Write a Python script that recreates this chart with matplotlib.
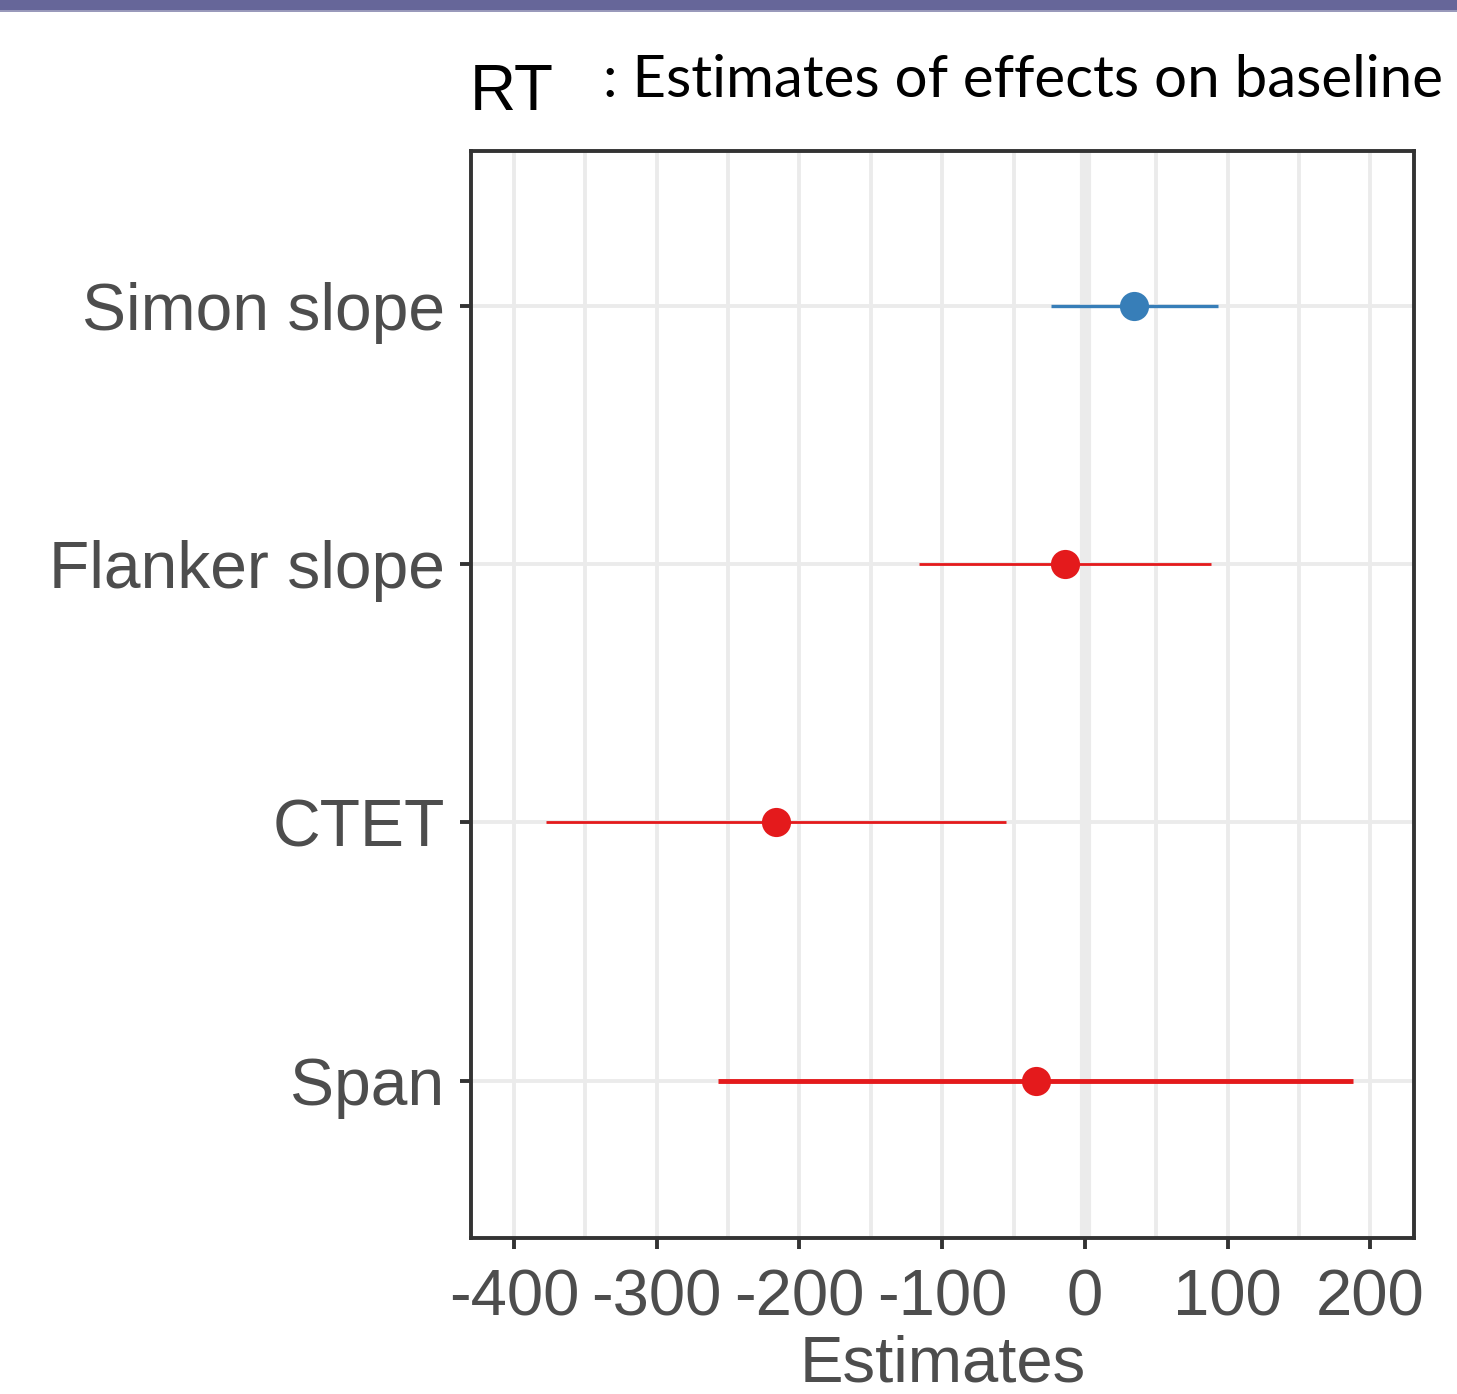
import matplotlib
matplotlib.use("Agg")
import matplotlib.pyplot as plt
from matplotlib.patches import Rectangle

# data
terms = ["Span", "CTET", "Flanker slope", "Simon slope"]
estimates = [-34.3, -216.5, -14.0, 34.3]
ci_low = [-257.0, -377.6, -116.3, -23.8]
ci_high = [187.7, -55.3, 88.3, 93.2]
x_ticks = [-400, -300, -200, -100, 0, 100, 200]

# styles
point_colors = ["#E41A1C", "#E41A1C", "#E41A1C", "#377EB8"]
line_widths = [3.5, 2.0, 2.0, 2.4]
text_grey = "#4D4D4D"
frame_grey = "#333333"
grid_grey = "#EBEBEB"

plt.rcParams["font.family"] = ["Liberation Sans", "DejaVu Sans"]
plt.rcParams["axes.unicode_minus"] = False

W, H = 1457, 1394
fig = plt.figure(figsize=(W / 100, H / 100), dpi=100)

# purple band on top of the slide
fig.patches.append(Rectangle((0, 1 - 11 / H), 1, 11 / H, transform=fig.transFigure,
                             facecolor="#666699", edgecolor="none"))
fig.patches.append(Rectangle((0, 1 - 12 / H), 1, 1.5 / H, transform=fig.transFigure,
                             facecolor="#9999BB", edgecolor="none"))

ax = fig.add_axes([471 / W, 1 - 1238 / H, (1414 - 471) / W, (1238 - 151) / H])

ypos = list(range(1, len(terms) + 1))

# grid lines every 50
for gx in range(-400, 201, 50):
    ax.axvline(gx, color=grid_grey, lw=2.8, zorder=0)
for gy in ypos:
    ax.axhline(gy, color=grid_grey, lw=2.8, zorder=0)
ax.axvline(0, color=grid_grey, lw=8, zorder=0.5)

for y, est, lo, hi, c, lw in zip(ypos, estimates, ci_low, ci_high, point_colors, line_widths):
    ax.plot([lo, hi], [y, y], color=c, lw=lw, solid_capstyle="butt", zorder=2)
    ax.plot(est, y, "o", color=c, markersize=21, markeredgewidth=0, zorder=3)

ax.set_xlim(-430, 230.5)
ax.set_ylim(0.39, 4.6)
ax.set_xticks(x_ticks)
ax.set_xticklabels([str(v) for v in x_ticks])
ax.set_yticks(ypos)
ax.set_yticklabels(terms)

for s in ax.spines.values():
    s.set_color(frame_grey)
    s.set_linewidth(2.8)
ax.tick_params(axis="both", colors=frame_grey, width=2.8, length=8, labelcolor=text_grey)
ax.tick_params(axis="x", pad=14, labelsize=47)
ax.tick_params(axis="y", pad=11, labelsize=47.5)
ax.set_xlabel("Estimates", fontsize=47, color=text_grey, labelpad=4)

# title pieces
fig.text(470 / W, 1 - 110 / H, "RT", fontsize=46, color="black", va="baseline", ha="left")
sub = fig.text(603 / W, 1 - 97 / H, ": Estimates of effects on baseline",
               family=["Lato", "DejaVu Sans"], fontsize=44, color="black",
               va="baseline", ha="left")
# fit subtitle width to the reference
fig.canvas.draw()
bb = sub.get_window_extent()
sub.set_fontsize(44 * 842 / bb.width)

fig.savefig("out.png", dpi=100)
